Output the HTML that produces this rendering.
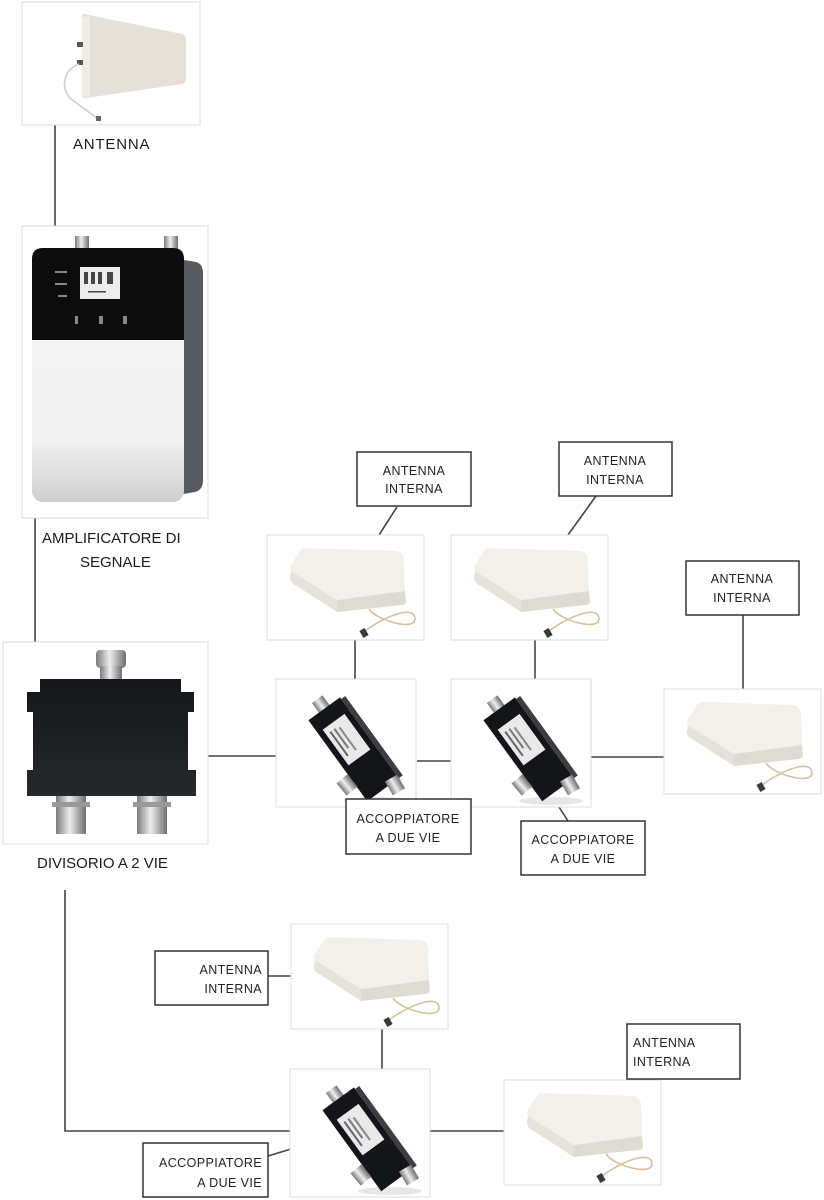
<!DOCTYPE html>
<html><head><meta charset="utf-8"><style>
html,body{margin:0;padding:0;background:#fff;}
svg{display:block;}
.lbl{font-family:"Liberation Sans",sans-serif;font-size:15px;fill:#1a1a1a;}
.bx{font-family:"Liberation Sans",sans-serif;font-size:12.5px;fill:#222;letter-spacing:0.4px;}
</style></head><body>
<svg width="824" height="1200" viewBox="0 0 824 1200" xmlns="http://www.w3.org/2000/svg">
<defs>
<linearGradient id="silv" x1="0" y1="0" x2="1" y2="0">
<stop offset="0" stop-color="#7a7a7a"/><stop offset="0.45" stop-color="#eeeeee"/><stop offset="1" stop-color="#6e6e6e"/></linearGradient>
<linearGradient id="wbody" x1="0" y1="0" x2="0" y2="1">
<stop offset="0" stop-color="#f7f7f7"/><stop offset="0.75" stop-color="#f1f1f1"/><stop offset="1" stop-color="#cfcfcf"/></linearGradient>
<linearGradient id="blk" x1="0" y1="0" x2="0" y2="1">
<stop offset="0" stop-color="#15161a"/><stop offset="1" stop-color="#26282c"/></linearGradient>
<g id="panel">
<rect x="0" y="0" width="157" height="105" fill="#fff" stroke="#dcdcdc" stroke-width="1"/>
<path d="M38,13 L129,16 Q136,17 137,24 L138,56 L70,65 L24,36 Q22,33 24,30 L33,16 Q35,13 38,13 Z" fill="#f1f0e9"/>
<path d="M24,36 L70,65 L70,77 L25,48 Q23,46 23,42 Z" fill="#e4e2d9"/>
<path d="M70,65 L138,56 L139,67 Q138,70 134,70 L70,77 Z" fill="#dedcd2"/>
<path d="M102,74 C110,86 148,96 148,84 C148,70 120,80 98,96" fill="none" stroke="#d2c29e" stroke-width="1.6"/>
<rect x="94" y="94" width="6" height="8" fill="#3a3a3a" transform="rotate(-30 97 98)"/>
</g>
<g id="coupler">
<rect x="0" y="0" width="140" height="128" fill="#fff" stroke="#dcdcdc" stroke-width="1"/>
<ellipse cx="100" cy="122" rx="32" ry="4" fill="#e6e6e6"/>
<g transform="rotate(-36 78 70)">
<rect x="71" y="8" width="13" height="13" fill="url(#silv)"/>
<rect x="58" y="20" width="39" height="100" fill="#141518"/>
<rect x="97" y="22" width="5" height="98" fill="#3c3d41"/>
<rect x="64" y="36" width="27" height="44" fill="#e9e9e9"/>
<rect x="68" y="42" width="2" height="30" fill="#666"/>
<rect x="73" y="42" width="2" height="24" fill="#777"/>
<rect x="78" y="44" width="2" height="28" fill="#888"/>
</g>
<rect x="64" y="98" width="14" height="16" fill="url(#silv)" transform="rotate(-40 71 106)"/>
<rect x="112" y="98" width="14" height="16" fill="url(#silv)" transform="rotate(-30 119 106)"/>
</g>
</defs>

<!-- connector lines -->
<g stroke="#444" stroke-width="1.6" fill="none">
<line x1="55" y1="125" x2="55" y2="226"/>
<line x1="35" y1="518" x2="35" y2="642"/>
<line x1="208" y1="756" x2="276" y2="756"/>
<line x1="355" y1="640" x2="355" y2="679"/>
<line x1="417" y1="761" x2="451" y2="761"/>
<line x1="535" y1="639" x2="535" y2="679"/>
<line x1="590" y1="757" x2="664" y2="757"/>
<line x1="743" y1="615" x2="743" y2="689"/>
<line x1="397" y1="507" x2="379" y2="535"/>
<line x1="596" y1="496" x2="568" y2="535"/>
<line x1="387" y1="799" x2="392" y2="807"/>
<line x1="568" y1="821" x2="559" y2="807"/>
<polyline points="65,890 65,1131 290,1131"/>
<line x1="268" y1="976" x2="291" y2="976"/>
<line x1="382" y1="1029" x2="382" y2="1069"/>
<line x1="268" y1="1156" x2="291" y2="1149"/>
<line x1="429" y1="1131" x2="504" y2="1131"/>
<line x1="645" y1="1079" x2="645" y2="1082" stroke-width="3"/>
</g>

<!-- top antenna -->
<rect x="22" y="2" width="178" height="123" fill="#fff" stroke="#dcdcdc"/>
<path d="M84,14 L182,34 Q186,35 186,40 L186,78 Q186,83 182,84 L86,98 Q82,99 82,95 L82,17 Q82,13 84,14 Z" fill="#e5e1d8"/>
<path d="M82,17 L90,16 L90,97 L82,96 Z" fill="#efece5"/>
<rect x="77" y="42" width="6" height="5" fill="#555"/>
<rect x="77" y="60" width="6" height="5" fill="#555"/>
<path d="M79,64 C64,70 60,86 70,98 L98,119" fill="none" stroke="#cfcfcf" stroke-width="1.6"/>
<rect x="96" y="116" width="5" height="5" fill="#666"/>
<text class="lbl" x="73" y="149" letter-spacing="0.8">ANTENNA</text>

<!-- amplifier -->
<rect x="22" y="226" width="186" height="292" fill="#fff" stroke="#dcdcdc"/>
<rect x="75" y="236" width="14" height="13" fill="url(#silv)"/>
<rect x="164" y="236" width="14" height="13" fill="url(#silv)"/>
<path d="M172,258 L196,262 Q203,264 203,273 L203,480 Q203,490 195,492 L172,496 Z" fill="#56595d"/>
<rect x="32" y="248" width="152" height="254" rx="11" fill="url(#wbody)"/>
<path d="M32,340 L32,259 Q32,248 43,248 L173,248 Q184,248 184,259 L184,340 Z" fill="#0c0c0c"/>
<rect x="80" y="267" width="40" height="32" fill="#ececec"/>
<g fill="#444"><rect x="84" y="272" width="4" height="12"/><rect x="91" y="272" width="4" height="12"/><rect x="98" y="272" width="4" height="12"/><rect x="107" y="272" width="6" height="12"/><rect x="88" y="291" width="18" height="1.5"/></g>
<g fill="#888"><rect x="55" y="271" width="12" height="2"/><rect x="55" y="283" width="12" height="2"/><rect x="58" y="295" width="9" height="2"/>
<rect x="75" y="316" width="3" height="8"/><rect x="99" y="316" width="4" height="8"/><rect x="123" y="316" width="4" height="8"/></g>
<text class="lbl" x="42" y="543">AMPLIFICATORE DI</text>
<text class="lbl" x="80" y="567">SEGNALE</text>

<!-- splitter -->
<rect x="3" y="642" width="205" height="202" fill="#fff" stroke="#dcdcdc"/>
<rect x="96" y="650" width="30" height="18" rx="4" fill="url(#silv)"/>
<rect x="100" y="666" width="22" height="14" fill="url(#silv)"/>
<path d="M40,679 L181,679 L181,692 L194,692 L194,712 L188,712 L188,770 L196,770 L196,796 L27,796 L27,770 L33,770 L33,712 L27,712 L27,692 L40,692 Z" fill="url(#blk)"/>
<rect x="56" y="796" width="30" height="38" fill="url(#silv)"/>
<rect x="52" y="802" width="38" height="5" fill="#999"/>
<rect x="137" y="796" width="30" height="38" fill="url(#silv)"/>
<rect x="133" y="802" width="38" height="5" fill="#999"/>
<text class="lbl" x="37" y="868">DIVISORIO A 2 VIE</text>

<!-- panels & couplers -->
<use href="#panel" x="267" y="535"/>
<use href="#panel" x="451" y="535"/>
<use href="#panel" x="664" y="689"/>
<use href="#panel" x="291" y="924"/>
<use href="#panel" x="504" y="1080"/>
<use href="#coupler" x="276" y="679"/>
<use href="#coupler" x="451" y="679"/>
<use href="#coupler" x="290" y="1069"/>

<!-- label boxes -->
<g fill="#fff" stroke="#333" stroke-width="1.5">
<rect x="357" y="452" width="114" height="54"/>
<rect x="559" y="442" width="113" height="54"/>
<rect x="686" y="561" width="113" height="54"/>
<rect x="346" y="799" width="125" height="55"/>
<rect x="521" y="821" width="124" height="54"/>
<rect x="155" y="951" width="113" height="54"/>
<rect x="143" y="1143" width="125" height="54"/>
<rect x="627" y="1024" width="113" height="55"/>
</g>
<g class="bx" text-anchor="middle">
<text x="414" y="475">ANTENNA</text><text x="414" y="493">INTERNA</text>
<text x="615" y="465">ANTENNA</text><text x="615" y="484">INTERNA</text>
<text x="742" y="583">ANTENNA</text><text x="742" y="602">INTERNA</text>
<text x="408" y="823">ACCOPPIATORE</text><text x="408" y="842">A DUE VIE</text>
<text x="583" y="844">ACCOPPIATORE</text><text x="583" y="863">A DUE VIE</text>
</g>
<g class="bx" text-anchor="end">
<text x="262" y="974">ANTENNA</text><text x="262" y="993">INTERNA</text>
<text x="262" y="1167">ACCOPPIATORE</text><text x="262" y="1187">A DUE VIE</text>
</g>
<g class="bx">
<text x="633" y="1047">ANTENNA</text><text x="633" y="1066">INTERNA</text>
</g>
</svg>
</body></html>
